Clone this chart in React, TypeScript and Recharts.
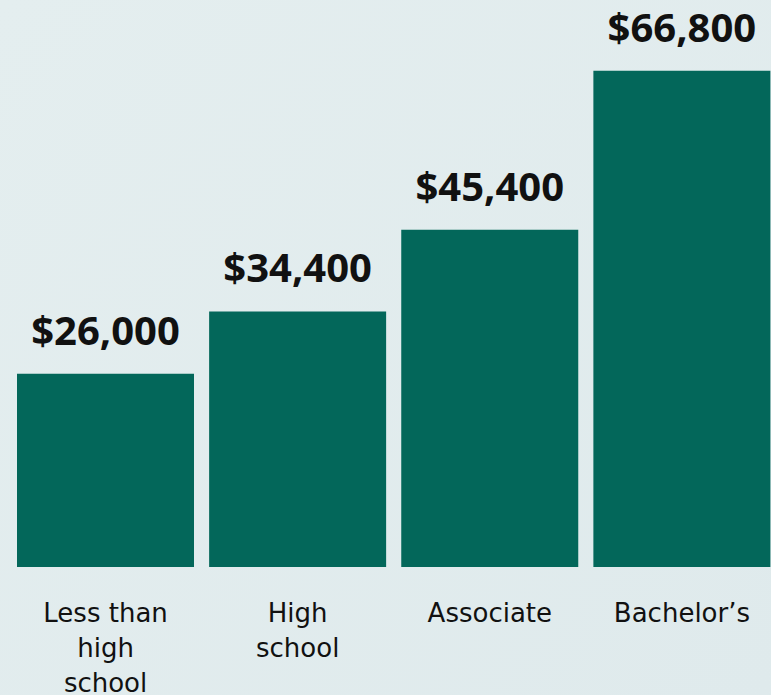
import { BarChart, Bar, XAxis, YAxis, LabelList } from 'recharts'

const categories = ['Less than high school', 'High school', 'Associate', "Bachelor's"]
const tickLines = [['Less than', 'high', 'school'], ['High', 'school'], ['Associate'], ['Bachelor\u2019s']]
const earnings = [26000, 34400, 45400, 66800]

const data = categories.map((name, i) => ({ name, value: earnings[i] }))

const fmt = (v: number) => '$' + v.toLocaleString('en-US')

const CategoryTick = (props: any) => {
  const { x, y, index } = props
  const lines = tickLines[index] || []
  return (
    <text x={x} y={y} textAnchor="middle" fontFamily="DejaVu Sans" fontSize={26} fill="#111">
      {lines.map((l, i) => (
        <tspan key={i} x={x} dy={i === 0 ? 55 : 35}>
          {l}
        </tspan>
      ))}
    </text>
  )
}

const ValueLabel = (props: any) => {
  const { x, y, width, value } = props
  return (
    <text x={x + width / 2} y={y - 29} textAnchor="middle" fontFamily="Open Sans" fontWeight={700} fontSize={40} fill="#111">
      {fmt(value)}
    </text>
  )
}

export default function App() {
  return (
    <div style={{ position: 'absolute', left: 0, top: 0, width: 771, height: 695, overflow: 'hidden', background: 'linear-gradient(135deg, #e4eeef 0%, #dfeaec 100%)' }}>
      <BarChart width={778} height={695} data={data} margin={{ top: 47, right: 0, left: 9.5, bottom: 0 }} barCategoryGap={7.5}>
        <XAxis dataKey="name" axisLine={false} tickLine={false} tickSize={0} tickMargin={0} height={128} interval={0} tick={<CategoryTick />} />
        <YAxis hide domain={[0, 70000]} />
        <Bar dataKey="value" fill="#03675a" isAnimationActive={false}>
          <LabelList dataKey="value" content={<ValueLabel />} />
        </Bar>
      </BarChart>
    </div>
  )
}
